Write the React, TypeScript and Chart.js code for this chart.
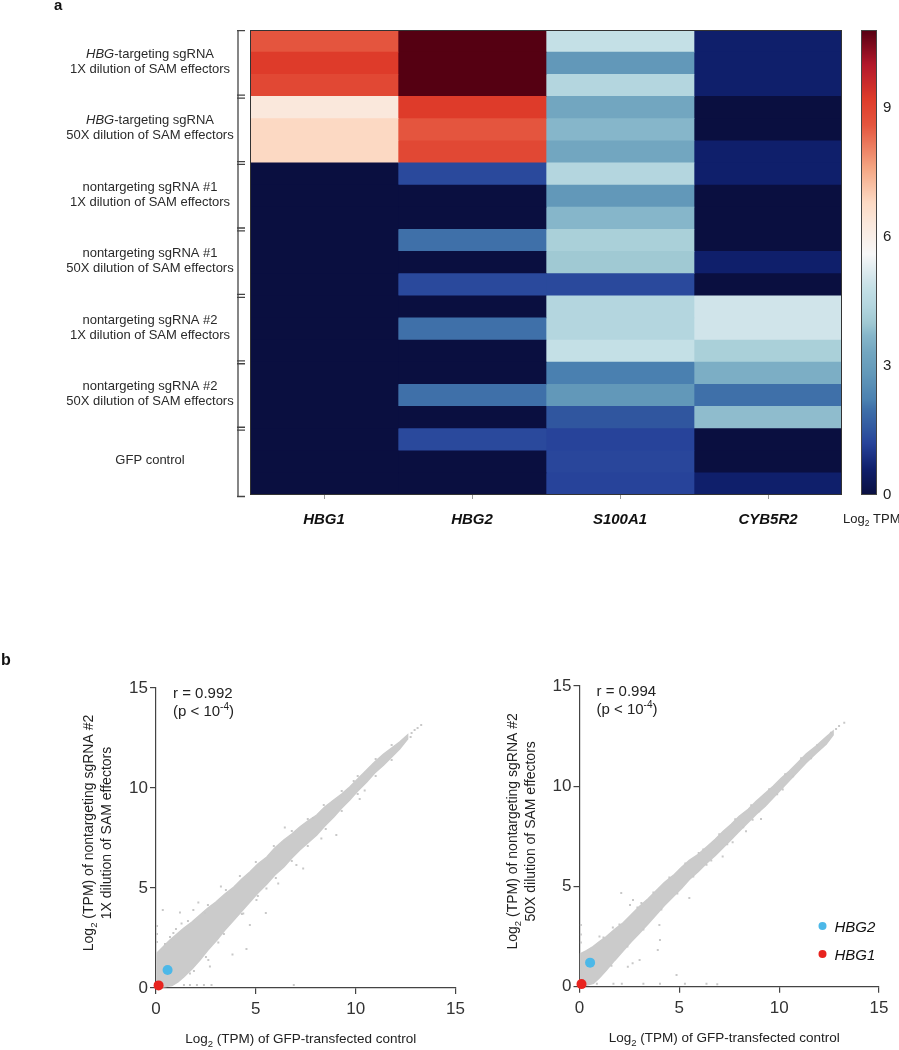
import React, { useEffect, useRef } from "react";
import { Chart, registerables } from "chart.js";

Chart.register(...registerables);

const FONT = '"Liberation Sans", Arial, Helvetica, sans-serif';

// ---------------- Panel a : heatmap data ----------------
const genes = ["HBG1", "HBG2", "S100A1", "CYB5R2"];
const groupLines: string[][] = [
  ["HBG-targeting sgRNA", "1X dilution of SAM effectors"],
  ["HBG-targeting sgRNA", "50X dilution of SAM effectors"],
  ["nontargeting sgRNA #1", "1X dilution of SAM effectors"],
  ["nontargeting sgRNA #1", "50X dilution of SAM effectors"],
  ["nontargeting sgRNA #2", "1X dilution of SAM effectors"],
  ["nontargeting sgRNA #2", "50X dilution of SAM effectors"],
  ["GFP control"],
];
const replicates = 3;
const hbg1Values = [8.6, 9.2, 8.9, 6.3, 6.8, 6.8, 0, 0, 0, 0, 0, 0, 0, 0, 0, 0, 0, 0, 0, 0, 0];
const hbg2Values = [10.8, 10.8, 10.8, 9.2, 8.6, 8.9, 1.3, 0, 0, 2.0, 0, 1.3, 0, 2.0, 0, 0, 2.0, 0, 1.3, 0, 0];
const s100a1Values = [4.8, 2.8, 4.4, 3.3, 3.7, 3.3, 4.4, 2.8, 3.7, 4.2, 4.0, 1.3, 4.4, 4.4, 4.8, 2.2, 2.8, 1.5, 1.2, 1.25, 1.2];
const cyb5r2Values = [0.6, 0.6, 0.6, 0, 0, 0.6, 0.6, 0, 0, 0, 0.6, 0, 5.0, 5.0, 4.2, 3.5, 2.0, 3.8, 0, 0, 0.6];
const colorbarTicks = [0, 3, 6, 9];
const colorbarMax = 10.8;

// ---------------- Panel b : scatter data ----------------
const scatterTicks = [0, 5, 10, 15];

const leftBandUpper: number[][] = [
  [0.03, 0.1], [0.05, 1.75], [0.35, 2.05], [0.7, 2.4], [1.05, 2.7], [1.4, 3.0], [1.8, 3.3], [2.2, 3.65],
  [2.6, 4.0], [3.0, 4.3], [3.45, 4.7], [3.9, 5.05], [4.3, 5.45], [4.7, 5.8], [5.1, 6.2], [5.55, 6.55],
  [5.95, 7.0], [6.4, 7.4], [6.8, 7.7], [7.2, 8.05], [7.6, 8.35], [8.05, 8.65], [8.45, 9.05], [8.9, 9.4],
  [9.3, 9.7], [9.7, 10.05], [10.1, 10.45], [10.55, 10.9], [10.95, 11.3], [11.4, 11.7], [11.8, 12.0],
  [12.2, 12.3], [12.6, 12.65],
];
const leftBandLower: number[][] = [
  [0.15, 0.02], [0.8, 0.12], [1.1, 0.3], [1.4, 0.57], [1.8, 0.95], [2.2, 1.4], [2.6, 1.9], [3.05, 2.4],
  [3.45, 2.9], [3.9, 3.4], [4.3, 3.85], [4.7, 4.3], [5.1, 4.75], [5.55, 5.2], [5.95, 5.65], [6.4, 6.05],
  [6.8, 6.5], [7.2, 6.9], [7.6, 7.25], [8.05, 7.65], [8.45, 8.1], [8.9, 8.55], [9.3, 9.0], [9.7, 9.4],
  [10.1, 9.85], [10.55, 10.3], [10.95, 10.75], [11.4, 11.15], [11.8, 11.55], [12.2, 11.95], [12.6, 12.45],
];
const leftOutliers: number[][] = [
  [13.28, 13.15], [13.1, 13.0], [12.95, 12.9], [12.8, 12.75], [12.75, 12.55],
  [6.45, 8.02], [9.03, 7.65], [3.25, 5.08], [4.53, 1.95], [5.5, 3.75], [6.9, 0.15], [2.78, 0.15],
  [2.4, 0.15], [2.05, 0.15], [1.7, 0.15], [1.4, 0.15], [0.34, 3.9], [1.2, 3.77], [2.12, 4.27],
  [1.87, 3.9], [2.45, 3.75], [10.2, 9.45], [10.45, 9.87], [9.9, 10.35], [8.28, 7.48], [7.87, 8.5],
  [7.03, 6.15], [7.37, 5.98], [6.12, 5.23], [5.53, 4.98], [5.03, 4.4], [4.7, 3.15], [4.37, 3.73],
  [3.12, 2.27], [2.7, 1.07], [2.62, 1.4], [1.7, 0.73], [3.83, 1.68], [0.05, 3.1], [0.05, 2.7],
  [0.05, 2.3], [0.45, 2.2], [0.7, 2.55], [0.87, 2.75], [1.28, 3.23],
  [1.0, 2.95], [1.6, 3.35], [2.6, 4.15], [3.5, 4.9], [4.2, 5.6], [5.0, 6.3], [5.9, 7.1], [6.8, 7.85],
  [7.6, 8.45], [8.4, 9.15], [9.3, 9.85], [10.1, 10.6], [11.0, 11.45], [11.8, 12.15],
  [1.9, 0.85], [2.5, 1.55], [3.4, 2.7], [4.3, 3.7], [5.1, 4.6], [6.0, 5.5], [6.8, 6.35], [7.6, 7.1],
  [8.5, 7.95], [9.3, 8.85], [10.1, 9.7], [11.0, 10.6], [11.8, 11.4],
];
const leftHBG2 = [0.58, 0.9];
const leftHBG1 = [0.13, 0.13];
const leftR = "0.992";

const rightBandUpper: number[][] = [
  [0.03, 0.1], [0.05, 1.65], [0.35, 1.8], [0.68, 2.0], [1.0, 2.25], [1.35, 2.5], [1.75, 2.85], [2.2, 3.2],
  [2.6, 3.6], [3.0, 4.0], [3.45, 4.4], [3.85, 4.8], [4.25, 5.2], [4.7, 5.55], [5.1, 5.95], [5.5, 6.3],
  [5.95, 6.6], [6.35, 6.95], [6.8, 7.35], [7.2, 7.75], [7.6, 8.1], [8.0, 8.5], [8.45, 8.85], [8.85, 9.25],
  [9.3, 9.65], [9.7, 10.0], [10.1, 10.4], [10.5, 10.75], [10.95, 11.2], [11.35, 11.6], [11.85, 12.0],
  [12.35, 12.45], [12.7, 12.75],
];
const rightBandLower: number[][] = [
  [0.15, 0.02], [0.7, 0.17], [1.0, 0.45], [1.35, 0.83], [1.75, 1.3], [2.2, 1.8], [2.6, 2.25], [3.0, 2.67],
  [3.45, 3.15], [3.85, 3.6], [4.25, 4.05], [4.7, 4.5], [5.1, 4.9], [5.5, 5.35], [5.95, 5.75], [6.35, 6.15],
  [6.8, 6.55], [7.2, 6.95], [7.6, 7.35], [8.0, 7.75], [8.45, 8.2], [8.85, 8.6], [9.3, 9.0], [9.7, 9.42],
  [10.1, 9.85], [10.5, 10.28], [10.95, 10.75], [11.35, 11.17], [11.85, 11.65], [12.35, 12.1], [12.7, 12.55],
];
const rightOutliers: number[][] = [
  [13.26, 13.17], [13.0, 13.0], [12.85, 12.85], [12.59, 12.67],
  [2.09, 4.67], [2.53, 4.08], [2.68, 4.33], [3.1, 4.17], [5.97, 6.67], [9.09, 8.37], [10.18, 9.84],
  [4.86, 0.58], [0.2, 0.15], [0.87, 0.15], [1.7, 0.15], [2.12, 0.15], [3.2, 0.15], [4.03, 0.15],
  [5.28, 0.15], [6.36, 0.15], [6.9, 0.12], [0.07, 3.08], [0.07, 2.6], [0.07, 2.2], [1.67, 2.95],
  [1.0, 2.5], [2.42, 1.0], [3.01, 1.33], [3.92, 1.83], [4.0, 3.08], [4.03, 2.33], [2.66, 1.17],
  [5.5, 4.42], [7.17, 6.5], [7.67, 7.2], [8.34, 7.75], [8.67, 8.33], [6.36, 6.08],
  [1.2, 2.45], [2.0, 3.1], [2.9, 3.95], [3.7, 4.7], [4.5, 5.45], [5.3, 6.15], [6.2, 6.85], [7.0, 7.6],
  [7.8, 8.35], [8.6, 9.05], [9.5, 9.85], [10.3, 10.6], [11.1, 11.4], [11.9, 12.05],
  [1.6, 1.05], [2.4, 2.0], [3.2, 2.85], [4.1, 3.85], [4.9, 4.65], [5.7, 5.5], [6.6, 6.3], [7.4, 7.1],
  [8.2, 7.95], [9.0, 8.75], [9.9, 9.6], [10.7, 10.5], [11.6, 11.4],
];
const rightHBG2 = [0.53, 1.2];
const rightHBG1 = [0.1, 0.13];
const rightR = "0.994";

// ---------------- colour map (style) ----------------
const cmapStops: [number, string][] = [
  [0, "#0a0f40"], [0.6, "#0f1f6b"], [1.2, "#27439a"], [1.5, "#30569f"], [2.0, "#3f70a9"],
  [2.2, "#4a80b0"], [2.8, "#6298b9"], [3.3, "#72a6c0"], [3.7, "#86b6ca"], [4.0, "#a0c9d3"],
  [4.4, "#b4d6df"], [4.8, "#c4e0e6"], [5.0, "#d0e4ea"], [5.6, "#f7f7f7"], [6.3, "#fae8dc"],
  [6.8, "#fcd9c3"], [7.6, "#f4a582"], [8.6, "#e4553e"], [9.2, "#de3b2a"], [10.0, "#b2182b"],
  [10.8, "#550012"],
];
function hexToRgb(h: string) {
  const n = parseInt(h.slice(1), 16);
  return [(n >> 16) & 255, (n >> 8) & 255, n & 255];
}
function cmap(v: number): string {
  const s = cmapStops;
  if (v <= s[0][0]) return s[0][1];
  if (v >= s[s.length - 1][0]) return s[s.length - 1][1];
  for (let i = 1; i < s.length; i++) {
    if (v <= s[i][0]) {
      const t = (v - s[i - 1][0]) / (s[i][0] - s[i - 1][0]);
      const a = hexToRgb(s[i - 1][1]);
      const b = hexToRgb(s[i][1]);
      const c = a.map((x, k) => Math.round(x + (b[k] - x) * t));
      return `rgb(${c[0]},${c[1]},${c[2]})`;
    }
  }
  return s[s.length - 1][1];
}

// ---------------- text helpers ----------------
type Part = { t: string; size: number; style?: string; weight?: string; dy?: number };
function setFont(ctx: CanvasRenderingContext2D, p: Part) {
  ctx.font = `${p.style || "normal"} ${p.weight || "normal"} ${p.size}px ${FONT}`;
}
function partsWidth(ctx: CanvasRenderingContext2D, parts: Part[]) {
  let w = 0;
  for (const p of parts) {
    setFont(ctx, p);
    w += ctx.measureText(p.t).width;
  }
  return w;
}
function drawParts(ctx: CanvasRenderingContext2D, parts: Part[], x: number, y: number, align: "left" | "center", color: string) {
  let cx = align === "center" ? x - partsWidth(ctx, parts) / 2 : x;
  ctx.fillStyle = color;
  ctx.textAlign = "left";
  ctx.textBaseline = "alphabetic";
  for (const p of parts) {
    setFont(ctx, p);
    ctx.fillText(p.t, cx, y + (p.dy || 0));
    cx += ctx.measureText(p.t).width;
  }
}
function labelParts(line: string, size: number): Part[] {
  if (line.startsWith("HBG-")) {
    return [
      { t: "HBG", size, style: "italic" },
      { t: line.slice(3), size },
    ];
  }
  return [{ t: line, size }];
}

// ---------------- heatmap decorations ----------------
const heatmapDecor = {
  id: "heatmapDecor",
  afterDraw(chart: any) {
    const { ctx, chartArea: ca, scales } = chart;
    const y = scales.y;
    const cb = scales.cb;
    ctx.save();
    // frame
    ctx.strokeStyle = "#333";
    ctx.lineWidth = 1;
    ctx.strokeRect(ca.left + 0.5, ca.top + 0.5, ca.width - 1, ca.height - 1);

    // colour bar
    const x0 = ca.right + 19;
    const w = 16;
    const yTop = cb.getPixelForValue(colorbarMax);
    const yBot = cb.getPixelForValue(0);
    for (let py = Math.floor(yTop); py < yBot; py++) {
      ctx.fillStyle = cmap(cb.getValueForPixel(py + 0.5));
      ctx.fillRect(x0, py, w, 1);
    }
    ctx.strokeStyle = "#444";
    ctx.strokeRect(x0 + 0.5, yTop + 0.5, w - 1, yBot - yTop - 1);
    drawParts(
      ctx,
      [{ t: "Log", size: 13 }, { t: "2", size: 8.5, dy: 3 }, { t: " TPM", size: 13 }],
      ca.right + 1,
      ca.bottom + 28,
      "left",
      "#222"
    );

    // brackets and group labels
    const rowH = y.getPixelForValue(1) - y.getPixelForValue(0);
    const bx = ca.left - 12;
    ctx.strokeStyle = "#444";
    ctx.lineWidth = 1.3;
    ctx.beginPath();
    ctx.moveTo(bx, ca.top + 0.5);
    ctx.lineTo(bx, ca.bottom + 1.5);
    ctx.stroke();
    groupLines.forEach((lines, g) => {
      const top = y.getPixelForValue(g * replicates) - rowH / 2;
      const bottom = y.getPixelForValue(g * replicates + replicates - 1) + rowH / 2;
      const t1 = g === 0 ? top + 0.7 : top + 1.6;
      const t2 = g === groupLines.length - 1 ? bottom + 1.5 : bottom - 1.3;
      ctx.beginPath();
      ctx.moveTo(bx - 1, t1);
      ctx.lineTo(bx + 7, t1);
      ctx.moveTo(bx - 1, t2);
      ctx.lineTo(bx + 7, t2);
      ctx.stroke();
      const gc = (top + bottom) / 2 - 2.5;
      const n = lines.length;
      lines.forEach((line, i) => {
        const cy = gc + (i - (n - 1) / 2) * 15;
        drawParts(ctx, labelParts(line, 13), 150, cy + 4.6, "center", "#2a2a2a");
      });
    });

    // panel letter
    drawParts(ctx, [{ t: "a", size: 15, weight: "bold" }], 54, 9.5, "left", "#111");
    ctx.restore();
  },
};

const geneValues = [hbg1Values, hbg2Values, s100a1Values, cyb5r2Values];
const rowLabels: string[] = [];
groupLines.forEach((lines) => {
  for (let r = 0; r < replicates; r++) rowLabels.push(`${lines.join(" ")} #${r + 1}`);
});

function heatmapConfig(): any {
  return {
    type: "bar",
    data: {
      labels: rowLabels,
      datasets: genes.map((g, gi) => ({
        label: g,
        data: rowLabels.map(() => 1),
        backgroundColor: geneValues[gi].map(cmap),
        borderWidth: 0,
        barPercentage: 1,
        categoryPercentage: 1,
      })),
    },
    options: {
      indexAxis: "y",
      animation: false,
      responsive: false,
      maintainAspectRatio: false,
      events: [],
      layout: { padding: { left: 250, top: 30, right: 0, bottom: 0 } },
      plugins: { legend: { display: false }, tooltip: { enabled: false } },
      scales: {
        x: {
          type: "linear",
          stacked: true,
          min: 0,
          max: genes.length,
          position: "bottom",
          offset: false,
          afterBuildTicks: (s: any) => {
            s.ticks = genes.map((_, i) => ({ value: i + 0.5 }));
          },
          afterFit: (s: any) => {
            s.height = 65;
          },
          ticks: {
            autoSkip: false,
            maxRotation: 0,
            padding: 12,
            color: "#111",
            font: { family: FONT, size: 15, weight: "bold", style: "italic" },
            callback: (_v: any, i: number) => genes[i],
          },
          grid: { drawOnChartArea: false, drawTicks: true, tickLength: 4, color: "#999", offset: false },
          border: { display: false },
        },
        y: { type: "category", stacked: true, display: false },
        cb: {
          type: "linear",
          position: "right",
          axis: "y",
          offset: false,
          min: 0,
          max: colorbarMax,
          afterBuildTicks: (s: any) => {
            s.ticks = colorbarTicks.map((v) => ({ value: v }));
          },
          afterFit: (s: any) => {
            s.width = 57;
            s.paddingTop = 0;
            s.paddingBottom = 0;
          },
          grid: { display: false, drawTicks: false, offset: false },
          border: { display: false },
          ticks: { padding: 41, color: "#222", font: { family: FONT, size: 15 } },
        },
      },
    },
    plugins: [heatmapDecor],
  };
}

// ---------------- scatter ----------------
type ScatterSpec = {
  upper: number[][];
  lower: number[][];
  outliers: number[][];
  hbg2: number[];
  hbg1: number[];
  r: string;
  yLine2: string;
  padTop: number;
  padRight: number;
  yWidth: number;
  xHeight: number;
  legend: boolean;
  letter: boolean;
};

function scatterDecor(spec: ScatterSpec) {
  return {
    id: "scatterDecor",
    afterDraw(chart: any) {
      const { ctx, chartArea: ca } = chart;
      ctx.save();
      const col = "#222";
      // y title
      const cy = ca.top + (ca.bottom - ca.top) / 2 - 5;
      const lines: Part[][] = [
        [
          { t: "Log", size: 14 },
          { t: "2", size: 9.5, dy: 4 },
          { t: " (TPM) of nontargeting sgRNA #2", size: 14 },
        ],
        [{ t: spec.yLine2, size: 14 }],
      ];
      const lx = [ca.left - 68, ca.left - 50];
      lines.forEach((parts, i) => {
        ctx.save();
        ctx.translate(lx[i] + 5, cy);
        ctx.rotate(-Math.PI / 2);
        drawParts(ctx, parts, 0, 0, "center", col);
        ctx.restore();
      });
      // x title
      drawParts(
        ctx,
        [
          { t: "Log", size: 13.5 },
          { t: "2", size: 9.5, dy: 4 },
          { t: " (TPM) of GFP-transfected control", size: 13.5 },
        ],
        (ca.left + ca.right) / 2 - 5,
        ca.bottom + 55,
        "center",
        col
      );
      // correlation annotation
      drawParts(ctx, [{ t: `r = ${spec.r}`, size: 15 }], ca.left + 17, ca.top + 10, "left", col);
      drawParts(
        ctx,
        [
          { t: "(p < 10", size: 15 },
          { t: "-4", size: 10, dy: -6 },
          { t: ")", size: 15 },
        ],
        ca.left + 17,
        ca.top + 28,
        "left",
        col
      );
      // legend
      if (spec.legend) {
        const items = [
          { t: "HBG2", c: chart.data.datasets[0].backgroundColor, dy: 240 },
          { t: "HBG1", c: chart.data.datasets[1].backgroundColor, dy: 268 },
        ];
        items.forEach((it) => {
          const x = ca.left + 243;
          const y = ca.top + it.dy;
          ctx.fillStyle = it.c;
          ctx.beginPath();
          ctx.arc(x, y, 4, 0, Math.PI * 2);
          ctx.fill();
          drawParts(ctx, [{ t: it.t, size: 15, style: "italic" }], x + 12, y + 5.5, "left", "#111");
        });
      }
      if (spec.letter) {
        drawParts(ctx, [{ t: "b", size: 16, weight: "bold" }], 1, 65, "left", "#111");
      }
      ctx.restore();
    },
  };
}

function toXY(arr: number[][]) {
  return arr.map((p) => ({ x: p[0], y: p[1] }));
}

function scatterConfig(spec: ScatterSpec): any {
  const polygon = toXY([...spec.upper, ...[...spec.lower].reverse()]);
  const axisCol = "#444";
  const tickFont = { family: FONT, size: 17 };
  return {
    type: "scatter",
    data: {
      datasets: [
        {
          label: "HBG2",
          data: toXY([spec.hbg2]),
          backgroundColor: "#4cb8e8",
          pointRadius: 5,
          borderWidth: 0,
          clip: false,
        },
        {
          label: "HBG1",
          data: toXY([spec.hbg1]),
          backgroundColor: "#e8231e",
          pointRadius: 5,
          borderWidth: 0,
          clip: false,
        },
        {
          label: "genes",
          data: toXY(spec.outliers),
          backgroundColor: "#c8c8c8",
          pointStyle: "rect",
          pointRadius: 1.4,
          borderWidth: 0,
        },
        {
          label: "bulk of genes",
          type: "line",
          data: polygon,
          showLine: true,
          fill: "shape",
          backgroundColor: "#cbcbcb",
          borderColor: "#cbcbcb",
          borderWidth: 1.5,
          pointRadius: 0,
          tension: 0,
        },
      ],
    },
    options: {
      animation: false,
      responsive: false,
      maintainAspectRatio: false,
      events: [],
      layout: { padding: { left: 0, top: spec.padTop, right: spec.padRight, bottom: 0 } },
      plugins: { legend: { display: false }, tooltip: { enabled: false } },
      scales: {
        x: {
          type: "linear",
          min: 0,
          max: 15,
          afterBuildTicks: (s: any) => {
            s.ticks = scatterTicks.map((v) => ({ value: v }));
          },
          afterFit: (s: any) => {
            s.height = spec.xHeight;
          },
          grid: { drawOnChartArea: false, drawTicks: true, tickLength: 6, color: axisCol, lineWidth: 1.2 },
          border: { display: true, color: axisCol, width: 1.2 },
          ticks: { color: "#333", font: tickFont, padding: 5, maxRotation: 0 },
        },
        y: {
          type: "linear",
          min: 0,
          max: 15,
          afterBuildTicks: (s: any) => {
            s.ticks = scatterTicks.map((v) => ({ value: v }));
          },
          afterFit: (s: any) => {
            s.width = spec.yWidth;
          },
          grid: { drawOnChartArea: false, drawTicks: true, tickLength: 6, color: axisCol, lineWidth: 1.2 },
          border: { display: true, color: axisCol, width: 1.2 },
          ticks: { color: "#333", font: tickFont, padding: 2 },
        },
      },
    },
    plugins: [scatterDecor(spec)],
  };
}

const leftSpec: ScatterSpec = {
  upper: leftBandUpper,
  lower: leftBandLower,
  outliers: leftOutliers,
  hbg2: leftHBG2,
  hbg1: leftHBG1,
  r: leftR,
  yLine2: "1X dilution of SAM effectors",
  padTop: 88,
  padRight: 14,
  yWidth: 156,
  xHeight: 62,
  legend: false,
  letter: true,
};
const rightSpec: ScatterSpec = {
  upper: rightBandUpper,
  lower: rightBandLower,
  outliers: rightOutliers,
  hbg2: rightHBG2,
  hbg1: rightHBG1,
  r: rightR,
  yLine2: "50X dilution of SAM effectors",
  padTop: 86,
  padRight: 20,
  yWidth: 109.5,
  xHeight: 63.3,
  legend: true,
  letter: false,
};

export default function App() {
  const heatRef = useRef<HTMLCanvasElement>(null);
  const leftRef = useRef<HTMLCanvasElement>(null);
  const rightRef = useRef<HTMLCanvasElement>(null);

  useEffect(() => {
    document.body.style.margin = "0";
    const charts: Chart[] = [];
    if (heatRef.current) charts.push(new Chart(heatRef.current, heatmapConfig()));
    if (leftRef.current) charts.push(new Chart(leftRef.current, scatterConfig(leftSpec)));
    if (rightRef.current) charts.push(new Chart(rightRef.current, scatterConfig(rightSpec)));
    return () => charts.forEach((c) => c.destroy());
  }, []);

  return (
    <div style={{ position: "relative", width: 899, height: 1050, overflow: "hidden", background: "#fff" }}>
      <canvas
        ref={heatRef}
        width={899}
        height={560}
        style={{ position: "absolute", left: 0, top: 0, width: 899, height: 560 }}
      />
      <canvas
        ref={leftRef}
        width={470}
        height={450}
        style={{ position: "absolute", left: 0, top: 600, width: 470, height: 450 }}
      />
      <canvas
        ref={rightRef}
        width={429}
        height={450}
        style={{ position: "absolute", left: 470, top: 600, width: 429, height: 450 }}
      />
    </div>
  );
}
